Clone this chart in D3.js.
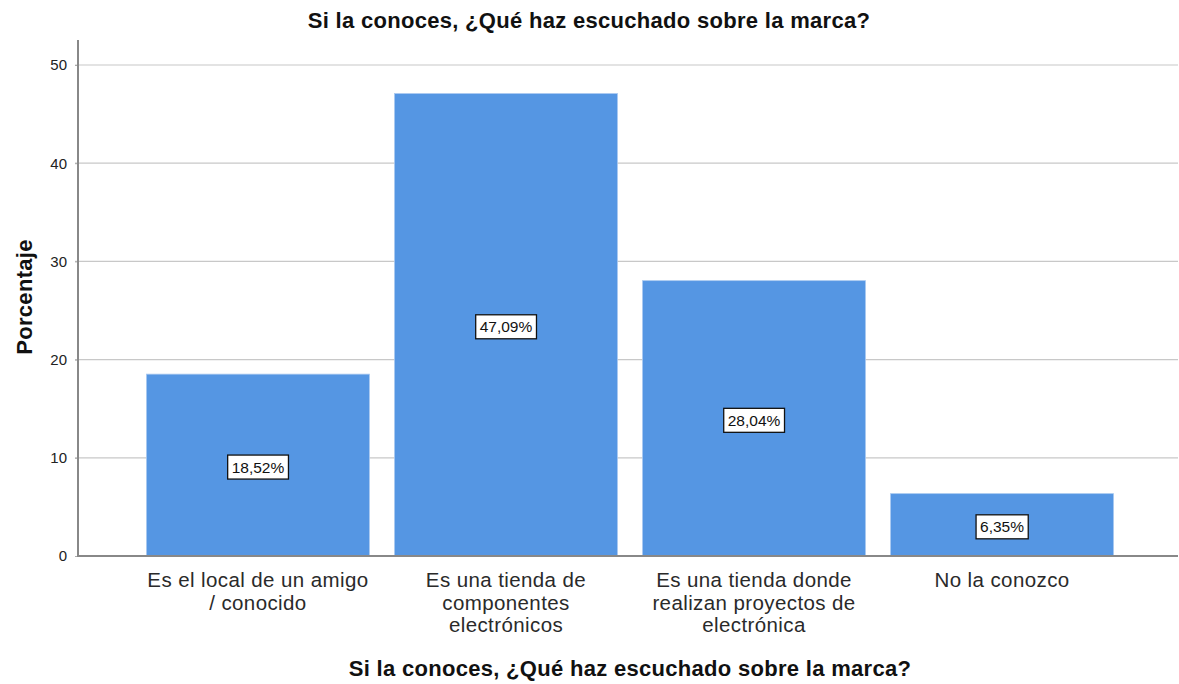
<!DOCTYPE html>
<html><head><meta charset="utf-8">
<script src="https://cdn.jsdelivr.net/npm/d3@7"></script>
<style>body{margin:0;background:#fff}svg{display:block}</style>
</head><body>
<svg id="c" width="1179" height="684"></svg>
<script>
const title = "Si la conoces, ¿Qué haz escuchado sobre la marca?";
const categories = [
  ["Es el local de un amigo", "/ conocido"],
  ["Es una tienda de", "componentes", "electrónicos"],
  ["Es una tienda donde", "realizan proyectos de", "electrónica"],
  ["No la conozco"]
];
const values = [18.52, 47.09, 28.04, 6.35];
const labels = ["18,52%", "47,09%", "28,04%", "6,35%"];
const yTicks = [0, 10, 20, 30, 40, 50];
const yLabel = "Porcentaje";

const svg = d3.select("#c");
const font = "Liberation Sans, Arial, sans-serif";
const L = 78, R = 1178, T = 40, B = 556;
const x = d3.scaleBand().domain(d3.range(categories.length)).range([L + 2, R + 2]).paddingInner(0.101).paddingOuter(0.268);
const y = d3.scaleLinear().domain([0, 50]).range([B, 65]);

// gridlines
svg.append("g").selectAll("line").data(yTicks.filter(d => d > 0)).join("line")
  .attr("x1", L - 3).attr("x2", R).attr("y1", d => y(d)).attr("y2", d => y(d))
  .attr("stroke", "#c8c8c8").attr("stroke-width", 1.2);

// bars
svg.append("g").selectAll("rect").data(values).join("rect")
  .attr("x", (d, i) => x(i)).attr("width", x.bandwidth())
  .attr("y", d => y(d)).attr("height", d => B - y(d))
  .attr("fill", "#5596e3").attr("stroke", "#a9c9f0").attr("stroke-width", 0.8);

// y axis
const ya = svg.append("g").attr("transform", `translate(${L},0)`)
  .call(d3.axisLeft(y).tickValues(yTicks).tickSize(3).tickPadding(8));
ya.select(".domain").remove();
ya.selectAll(".tick line").attr("stroke", "#aaa");
ya.selectAll("text").attr("font-family", font).attr("font-size", 15).attr("fill", "#222");
svg.append("line").attr("x1", L).attr("x2", L).attr("y1", T).attr("y2", B + 1)
  .attr("stroke", "#888").attr("stroke-width", 2);
svg.append("line").attr("x1", L).attr("x2", R).attr("y1", B).attr("y2", B)
  .attr("stroke", "#888").attr("stroke-width", 2);

// value labels
const lg = svg.append("g").selectAll("g").data(values).join("g")
  .attr("transform", (d, i) => `translate(${x(i) + x.bandwidth() / 2},${(y(d) + B) / 2 + 2})`);
lg.append("text").text((d, i) => labels[i]).attr("text-anchor", "middle").attr("dy", "0.36em")
  .attr("font-family", font).attr("font-size", 15.5).attr("fill", "#111");
lg.each(function () {
  const g = d3.select(this), bb = g.select("text").node().getBBox();
  g.insert("rect", "text").attr("x", bb.x - 4).attr("y", -12).attr("width", bb.width + 8).attr("height", 24)
    .attr("fill", "#fff").attr("stroke", "#111").attr("stroke-width", 1.3);
});

// category labels
svg.append("g").selectAll("text").data(categories).join("text")
  .attr("x", (d, i) => x(i) + x.bandwidth() / 2).attr("y", 587)
  .attr("text-anchor", "middle").attr("font-family", font).attr("font-size", 20.5)
  .attr("letter-spacing", 0.4).attr("fill", "#2a2a2a")
  .selectAll("tspan").data(d => d).join("tspan")
  .attr("x", function () { return d3.select(this.parentNode).attr("x"); })
  .attr("dy", (d, i) => i === 0 ? 0 : 22.5).text(d => d);

// titles
svg.append("text").attr("x", 589).attr("y", 28).attr("text-anchor", "middle")
  .attr("font-family", font).attr("font-weight", "bold").attr("font-size", 22).attr("letter-spacing", 0.3)
  .attr("fill", "#111").text(title);
svg.append("text").attr("x", 630).attr("y", 676).attr("text-anchor", "middle")
  .attr("font-family", font).attr("font-weight", "bold").attr("font-size", 22).attr("letter-spacing", 0.3)
  .attr("fill", "#111").text(title);
svg.append("text").attr("transform", "translate(32,297) rotate(-90)").attr("text-anchor", "middle")
  .attr("font-family", font).attr("font-weight", "bold").attr("font-size", 22).attr("letter-spacing", 0.3)
  .attr("fill", "#111").text(yLabel);
</script>
</body></html>
